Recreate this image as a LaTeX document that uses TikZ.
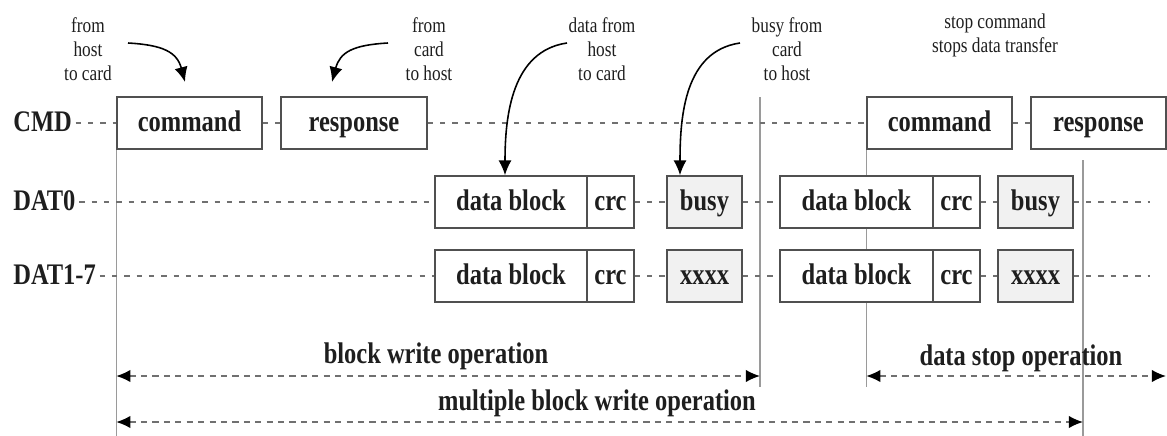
\documentclass[tikz,border=0pt]{standalone}
\usepackage{fontspec}
\setmainfont{Liberation Serif}
\newfontfamily\tallfont[FakeStretch=0.82]{Liberation Serif}
\usetikzlibrary{arrows.meta}
\pgfdeclarelayer{background}
\pgfsetlayers{background,main}
\definecolor{boxgray}{HTML}{505050}
\definecolor{linegray}{HTML}{9A9A9A}
\definecolor{dashgray}{HTML}{707070}
\definecolor{busyfill}{HTML}{F1F1F1}
\definecolor{inkblack}{HTML}{1E1E1E}
\tikzset{
  blk/.style={draw=boxgray, line width=0.9pt, fill=white, minimum height=1.04cm, inner sep=0pt,
    text height=12pt, text depth=2pt, text=inkblack, font=\tallfont\bfseries\fontsize{17}{19}\selectfont},
  gblk/.style={blk, fill=busyfill},
  sig/.style={anchor=west, inner sep=0pt, text height=12pt, text depth=2pt, text=inkblack,
    font=\tallfont\bfseries\fontsize{17}{19}\selectfont},
  note/.style={align=center, inner sep=0pt, text=inkblack, font=\tallfont\fontsize{12}{13.6}\selectfont},
  oplabel/.style={inner sep=0pt, text height=12pt, text depth=2pt, text=inkblack,
    font=\tallfont\bfseries\fontsize{17}{19}\selectfont},
  idle/.style={draw=dashgray, dash pattern=on 3pt off 4pt, line width=0.7pt},
  guide/.style={draw=linegray, line width=0.6pt},
  oparrow/.style={draw=dashgray, dash pattern=on 3.5pt off 3pt, line width=0.8pt,
    {Latex[length=8pt,width=7pt,color=black]}-{Latex[length=8pt,width=7pt,color=black]}},
  tagarrow/.style={draw=black, line width=0.9pt, -{Latex[length=8.5pt,width=7.5pt]}}
}

\begin{document}
\begin{tikzpicture}[x=0.02cm, y=-0.02cm]
\useasboundingbox (0,0) rectangle (1167,436);

\coordinate (bot) at (0,436);
\coordinate (bwrow) at (0,376);
\coordinate (mbrow) at (0,422);
\coordinate (redge) at (1166,0);
\coordinate (wrtop) at (760,97);
\coordinate (wrend) at (760,387);
\coordinate (mbtop) at (1083,160);

\node[sig] (cmd) at (13,123) {CMD};
\node[sig] (dat0) at (13,202) {DAT0};
\node[sig] (dat1) at (13,276) {DAT1-7};

\node[blk, minimum width=2.9cm] (cmd1) at (189.5,123) {command};
\node[blk, minimum width=2.92cm] (rsp1) at (354,123) {response};
\node[blk, minimum width=2.9cm] (cmd2) at (939.5,123) {command};
\node[blk, minimum width=2.7cm] (rsp2) at (1098.5,123) {response};

\foreach \r/\y/\t in {0/202/busy, 1/276/xxxx} {
  \node[blk, minimum width=3.04cm] (dbA\r) at (511,\y) {data block};
  \node[blk, minimum width=0.94cm] (crcA\r) at (610.5,\y) {crc};
  \node[gblk, minimum width=1.5cm] (bzA\r) at (704.5,\y) {\t};
  \node[blk, minimum width=3.06cm] (dbB\r) at (856.5,\y) {data block};
  \node[blk, minimum width=0.94cm] (crcB\r) at (956.5,\y) {crc};
  \node[gblk, minimum width=1.5cm] (bzB\r) at (1035.5,\y) {\t};
  \coordinate (end\r) at (1150,\y);
}

\begin{pgfonlayer}{background}
\draw[guide] (cmd1.south west) -- (cmd1.south west |- bot);
\draw[guide] (wrtop) -- (wrend);
\draw[guide] (cmd2.south west) -- (cmd2.south west |- wrend);
\draw[guide] (mbtop) -- (mbtop |- bot);

\draw[idle] ([xshift=2pt]cmd.east) -- (cmd1.west);
\draw[idle] (cmd1.east) -- (rsp1.west);
\draw[idle] (rsp1.east) -- (cmd2.west);
\draw[idle] (cmd2.east) -- (rsp2.west);
\draw[idle] ([xshift=2pt]dat0.east) -- (dbA0.west);
\draw[idle] ([xshift=2pt]dat1.east) -- (dbA1.west);
\foreach \r in {0,1} {
  \draw[idle] (crcA\r.east) -- (bzA\r.west);
  \draw[idle] (bzA\r.east) -- (dbB\r.west);
  \draw[idle] (crcB\r.east) -- (bzB\r.west);
  \draw[idle] (bzB\r.east) -- (end\r);
}
\end{pgfonlayer}

\node[note] (n1) at (88,49) {from\\host\\to card};
\node[note] (n2) at (429,49) {from\\card\\to host};
\node[note] (n3) at (602,49) {data from\\host\\to card};
\node[note] (n4) at (787,49) {busy from\\card\\to host};
\node[note] (n5) at (995,35) {stop command\\stops data transfer};

\coordinate (s1) at (128,43);
\coordinate (s2) at (388,43);
\coordinate (s3) at (567,43);
\coordinate (s4) at (740,43);
\coordinate (e1) at (185,82);
\coordinate (e2) at (332,82);

\draw[tagarrow] (s1) .. controls +(35,2) and +(-8,-30) .. (e1);
\draw[tagarrow] (s2) .. controls +(-35,2) and +(8,-30) .. (e2);
\draw[tagarrow] (s3) .. controls +(-55,8) and +(0,-60) .. (505,0 |- dbA0.north);
\draw[tagarrow] (s4) .. controls +(-55,8) and +(0,-60) .. (680,0 |- bzA0.north);

\draw[oparrow] (cmd1.west |- bwrow) -- (wrtop |- bwrow);
\draw[oparrow] (cmd2.west |- bwrow) -- (redge |- bwrow);
\draw[oparrow] (cmd1.west |- mbrow) -- (mbtop |- mbrow);

\node[oplabel] (bwop) at (436,355) {block write operation};
\node[oplabel] (dsop) at (1021,357) {data stop operation};
\node[oplabel] (mbop) at (597,402) {multiple block write operation};
\end{tikzpicture}
\end{document}
